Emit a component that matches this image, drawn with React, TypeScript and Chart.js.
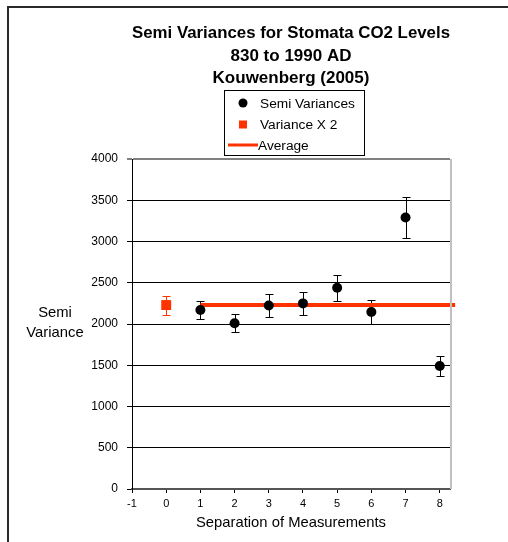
import React, { useEffect, useRef } from 'react';
import { Chart, registerables } from 'chart.js';

Chart.register(...registerables);

const titleLines = ['Semi Variances for Stomata CO2 Levels', '830 to 1990 AD', 'Kouwenberg (2005)'];
const yTitleLines = ['Semi', 'Variance'];
const xTitle = 'Separation of Measurements';
const legendLabels = ['Semi Variances', 'Variance X 2', 'Average'];

const semiX = [1, 2, 3, 4, 5, 6, 7, 8];
const semiY = [2170, 2010, 2225, 2250, 2440, 2145, 3290, 1490];
const semiErr = [110, 110, 135, 135, 160, 145, 250, 120];

const varX = [0];
const varY = [2230];
const varErr = [115];

const avgX = [1, 8.45];
const avgY = [2230, 2230];

const xTicks = [-1, 0, 1, 2, 3, 4, 5, 6, 7, 8];
const yTicks = [0, 500, 1000, 1500, 2000, 2500, 3000, 3500, 4000];

const RED = '#ff3300';
const FONT = '"Liberation Sans", Arial, sans-serif';

const errorBars = {
  id: 'errorBars',
  beforeDatasetsDraw(chart: any) {
    const { ctx } = chart;
    const xs = chart.scales.x;
    const ys = chart.scales.y;
    const draw = (px: number[], py: number[], pe: number[], color: string) => {
      ctx.save();
      ctx.strokeStyle = color;
      ctx.lineWidth = 1;
      for (let i = 0; i < px.length; i++) {
        const cx = Math.round(xs.getPixelForValue(px[i])) + 0.5;
        const top = Math.round(ys.getPixelForValue(py[i] + pe[i])) + 0.5;
        const bot = Math.round(ys.getPixelForValue(py[i] - pe[i])) + 0.5;
        ctx.beginPath();
        ctx.moveTo(cx, top);
        ctx.lineTo(cx, bot);
        ctx.moveTo(cx - 4, top);
        ctx.lineTo(cx + 4, top);
        ctx.moveTo(cx - 4, bot);
        ctx.lineTo(cx + 4, bot);
        ctx.stroke();
      }
      ctx.restore();
    };
    draw(semiX, semiY, semiErr, '#000');
    draw(varX, varY, varErr, RED);
  },
};

const decorations = {
  id: 'decorations',
  beforeDraw(chart: any) {
    const { ctx } = chart;
    ctx.save();
    ctx.fillStyle = '#fff';
    ctx.fillRect(0, 0, chart.width, chart.height);
    ctx.strokeStyle = '#2a2a2a';
    ctx.lineWidth = 2;
    ctx.beginPath();
    ctx.moveTo(8, chart.height + 5);
    ctx.lineTo(8, 7);
    ctx.lineTo(chart.width + 5, 7);
    ctx.stroke();
    ctx.restore();
  },
  afterDraw(chart: any) {
    const { ctx, chartArea } = chart;
    ctx.save();
    // right plot border
    ctx.strokeStyle = '#c0c0c0';
    ctx.lineWidth = 2;
    ctx.beginPath();
    ctx.moveTo(chartArea.right + 1, chartArea.top);
    ctx.lineTo(chartArea.right + 1, chartArea.bottom);
    ctx.stroke();

    // y title
    ctx.fillStyle = '#000';
    ctx.font = '14.8px ' + FONT;
    ctx.textAlign = 'center';
    ctx.textBaseline = 'middle';
    yTitleLines.forEach((t, i) => ctx.fillText(t, 55, 313 + i * 20));

    // legend
    const lx = 224, ly = 90, lw = 140, lh = 65;
    ctx.fillStyle = '#fff';
    ctx.fillRect(lx, ly, lw, lh);
    ctx.strokeStyle = '#000';
    ctx.lineWidth = 1;
    ctx.strokeRect(lx + 0.5, ly + 0.5, lw, lh);
    ctx.font = '13.7px ' + FONT;
    ctx.textAlign = 'left';
    ctx.fillStyle = '#000';
    const rows = [103, 124.5, 145];
    ctx.beginPath();
    ctx.arc(243, rows[0], 4.5, 0, Math.PI * 2);
    ctx.fill();
    ctx.fillStyle = RED;
    ctx.fillRect(239, rows[1] - 4, 8, 8);
    ctx.strokeStyle = RED;
    ctx.lineWidth = 3;
    ctx.beginPath();
    ctx.moveTo(228, rows[2]);
    ctx.lineTo(258, rows[2]);
    ctx.stroke();
    ctx.fillStyle = '#000';
    legendLabels.forEach((t, i) => ctx.fillText(t, i === 2 ? 258 : 260, rows[i] + 1));
    ctx.restore();
  },
};

export default function App() {
  const ref = useRef<HTMLCanvasElement>(null);
  useEffect(() => {
    document.body.style.margin = '0';
    if (!ref.current) return;
    Chart.defaults.font.family = FONT;
    const chart = new Chart(ref.current, {
      type: 'scatter',
      data: {
        datasets: [
          {
            label: legendLabels[0],
            data: semiX.map((x, i) => ({ x, y: semiY[i] })),
            pointStyle: 'circle',
            pointRadius: 5,
            backgroundColor: '#000',
            borderColor: '#000',
            borderWidth: 0,
          },
          {
            label: legendLabels[1],
            data: varX.map((x, i) => ({ x, y: varY[i] })),
            pointStyle: 'rect',
            pointRadius: 7,
            backgroundColor: RED,
            borderColor: RED,
            borderWidth: 0,
          },
          {
            label: legendLabels[2],
            type: 'line',
            data: avgX.map((x, i) => ({ x, y: avgY[i] })),
            borderColor: RED,
            borderWidth: 4,
            pointRadius: 0,
            showLine: true,
            clip: false as any,
          } as any,
        ],
      },
      options: {
        responsive: false,
        animation: false,
        devicePixelRatio: 1,
        layout: { padding: { left: 0, right: 58, top: 0, bottom: 0 } },
        plugins: {
          legend: { display: false },
          tooltip: { enabled: false },
          title: {
            display: true,
            fullSize: false,
            text: titleLines,
            color: '#000',
            font: { size: 17, weight: 'bold', family: FONT, lineHeight: 22.5 / 17 },
            padding: { top: 22.5, bottom: 69 },
          },
        },
        scales: {
          x: {
            type: 'linear',
            min: -1,
            max: 8.3,
            afterFit: (s: any) => { s.height = 53; },
            afterBuildTicks: (s: any) => { s.ticks = xTicks.map((v) => ({ value: v })); },
            grid: { display: true, drawOnChartArea: false, drawTicks: true, tickLength: 4, color: '#000' },
            border: { display: true, color: '#555', width: 2 },
            ticks: {
              color: '#000',
              font: { size: 11, family: FONT },
              padding: 4.4,
              maxRotation: 0,
              autoSkip: false,
              callback: (v: any) => String(v),
            },
            title: {
              display: true,
              text: xTitle,
              color: '#000',
              font: { size: 14.8, family: FONT },
              padding: { top: 0, bottom: 10 },
            },
          },
          y: {
            type: 'linear',
            min: 0,
            max: 4000,
            afterFit: (s: any) => { s.width = 132; },
            afterBuildTicks: (s: any) => { s.ticks = yTicks.map((v) => ({ value: v })); },
            grid: {
              display: true,
              drawOnChartArea: true,
              drawTicks: true,
              tickLength: 5,
              color: (c: any) => (c.tick && c.tick.value === 4000 ? '#808080' : '#000'),
              lineWidth: (c: any) => (c.tick && c.tick.value === 4000 ? 2 : 1),
            },
            border: { display: true, color: '#000', width: 1 },
            ticks: {
              color: '#000',
              font: { size: 12, family: FONT },
              padding: 9,
              autoSkip: false,
              callback: (v: any) => String(v),
            },
          },
        },
      },
      plugins: [decorations, errorBars],
    });
    return () => chart.destroy();
  }, []);
  return <canvas ref={ref} width={508} height={542} style={{ display: 'block', width: 508, height: 542 }} />;
}
